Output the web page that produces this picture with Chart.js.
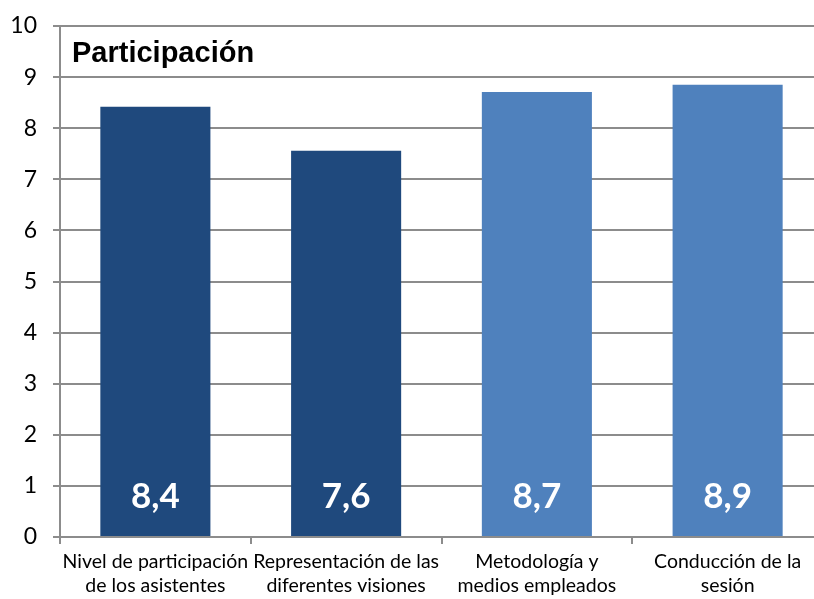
<!DOCTYPE html>
<html><head><meta charset="utf-8">
<script src="https://cdn.jsdelivr.net/npm/chart.js@4/dist/chart.umd.min.js"></script>
<style>html,body{margin:0;padding:0;overflow:hidden;background:#fff}#wrap{width:830px;height:599px}</style>
</head><body><div id="wrap"><canvas id="c" width="830" height="599"></canvas></div>
<script>
const categories = [["Nivel de participación","de los asistentes"],["Representación de las","diferentes visiones"],["Metodología y","medios empleados"],["Conducción de la","sesión"]];
const values = [8.42, 7.56, 8.71, 8.85];
const valueLabels = ["8,4","7,6","8,7","8,9"];
const barColors = ["#1F497D","#1F497D","#4F81BD","#4F81BD"];
const yTicks = [0,1,2,3,4,5,6,7,8,9,10];
const chartTitle = "Participación";

const overlay = {
  id:'overlay',
  afterDatasetsDraw(chart){
    const ctx = chart.ctx;
    const meta = chart.getDatasetMeta(0);
    const yb = chart.scales.y.getPixelForValue(0);
    ctx.save();
    ctx.fillStyle = '#fff';
    ctx.font = 'bold 35px Lato';
    ctx.textAlign = 'center';
    ctx.textBaseline = 'middle';
    meta.data.forEach((bar,i)=>{ ctx.fillText(valueLabels[i], bar.x, yb-40); });
    ctx.fillStyle = '#000';
    ctx.font = 'bold 29px "Liberation Sans"';
    ctx.textAlign = 'left';
    ctx.textBaseline = 'alphabetic';
    ctx.fillText(chartTitle, chart.chartArea.left+12, chart.chartArea.top+36);
    ctx.restore();
  }
};

new Chart(document.getElementById('c'), {
  type:'bar',
  data:{labels:categories, datasets:[{data:values, backgroundColor:barColors, barPercentage:0.577, categoryPercentage:1}]},
  options:{
    responsive:false, animation:false,
    layout:{padding:{top:26,right:7,left:0,bottom:0}},
    plugins:{legend:{display:false}, tooltip:{enabled:false}},
    scales:{
      y:{min:0,max:10,
        afterBuildTicks(s){ s.ticks = yTicks.map(v=>({value:v})); },
        afterFit(s){ s.width = 60; s.paddingTop = 0; s.paddingBottom = 0; },
        grid:{color:'#8c8c8c', lineWidth:2, tickLength:7},
        border:{color:'#8c8c8c', width:2},
        ticks:{color:'#000', font:{family:'Lato', size:23}, padding:16}
      },
      x:{
        afterFit(s){ s.height = 62; },
        grid:{drawOnChartArea:false, offset:true, tickLength:7, color:'#8c8c8c', lineWidth:2},
        border:{color:'#8c8c8c', width:2},
        ticks:{color:'#000', font:{family:'Lato', size:19.5, lineHeight:1.22}, padding:6, maxRotation:0, autoSkip:false}
      }
    }
  },
  plugins:[overlay]
});
</script></body></html>
